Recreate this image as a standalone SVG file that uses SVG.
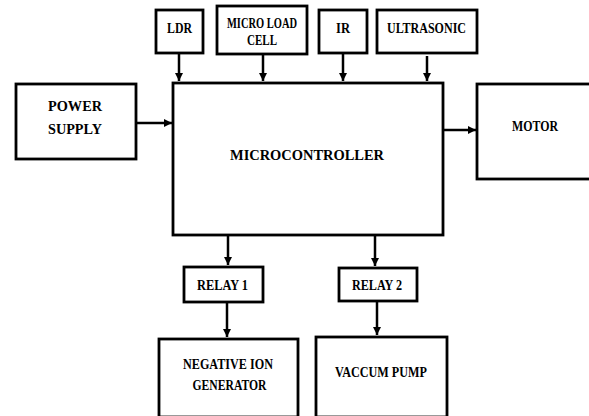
<svg xmlns="http://www.w3.org/2000/svg" width="589" height="416" viewBox="0 0 589 416">
<defs>
<marker id="ah" viewBox="0 0 10 10" refX="10" refY="5" markerWidth="3.2" markerHeight="3.2" orient="auto" markerUnits="strokeWidth">
<path d="M0,0 L10,5 L0,10 z" fill="#000"/>
</marker>
<style>
rect{fill:#fff;stroke:#000;stroke-width:2.8}
text{font-family:"Liberation Serif","Times New Roman",serif;font-weight:bold;font-size:15px;fill:#000;text-anchor:middle}
.c line{stroke:#000;stroke-width:2.5;marker-end:url(#ah)}
</style>
</defs>
<rect x="0" y="0" width="589" height="416" style="fill:#fff;stroke:none"/>
<g id="ldr"><rect x="156" y="10" width="47" height="43"/><text x="179.5" y="33" font-size="14" textLength="25" lengthAdjust="spacingAndGlyphs">LDR</text></g>
<g id="loadcell"><rect x="217" y="6" width="90" height="48"/><text x="262" y="28" textLength="70" lengthAdjust="spacingAndGlyphs">MICRO LOAD</text><text x="262" y="45" textLength="30" lengthAdjust="spacingAndGlyphs">CELL</text></g>
<g id="ir"><rect x="319" y="10" width="48" height="43"/><text x="343" y="33" textLength="14" lengthAdjust="spacingAndGlyphs">IR</text></g>
<g id="ultrasonic"><rect x="377" y="10" width="100" height="43"/><text x="426.5" y="33" textLength="79" lengthAdjust="spacingAndGlyphs">ULTRASONIC</text></g>
<g id="power"><rect x="16" y="84" width="120" height="75"/><text x="75" y="111" font-size="20" textLength="54" lengthAdjust="spacingAndGlyphs">POWER</text><text x="75" y="134" font-size="20" textLength="54" lengthAdjust="spacingAndGlyphs">SUPPLY</text></g>
<g id="mcu"><rect x="173" y="83" width="270" height="152"/><text x="307" y="160" font-size="18" textLength="154" lengthAdjust="spacingAndGlyphs">MICROCONTROLLER</text></g>
<g id="motor"><rect x="477" y="84" width="114" height="95"/><text x="535" y="131" font-size="15.5" textLength="46" lengthAdjust="spacingAndGlyphs">MOTOR</text></g>
<g id="relay1"><rect x="184" y="267" width="79" height="35"/><text x="222.5" y="290" textLength="51" lengthAdjust="spacingAndGlyphs">RELAY 1</text></g>
<g id="relay2"><rect x="339" y="268" width="78" height="33"/><text x="377" y="290" textLength="50" lengthAdjust="spacingAndGlyphs">RELAY 2</text></g>
<g id="ion"><rect x="159" y="339" width="139" height="78"/><text x="228" y="369" font-size="17" textLength="90" lengthAdjust="spacingAndGlyphs">NEGATIVE ION</text><text x="229.5" y="390" font-size="17" textLength="74" lengthAdjust="spacingAndGlyphs">GENERATOR</text></g>
<g id="pump"><rect x="316" y="337" width="131" height="80"/><text x="381" y="377" font-size="16.5" textLength="92" lengthAdjust="spacingAndGlyphs">VACCUM PUMP</text></g>
<g id="connectors" class="c">
<line x1="179" y1="54" x2="179" y2="81"/>
<line x1="263" y1="55" x2="263" y2="81"/>
<line x1="343" y1="54" x2="343" y2="81"/>
<line x1="427" y1="56" x2="427" y2="81"/>
<line x1="137" y1="123" x2="172" y2="123"/>
<line x1="444" y1="130" x2="476" y2="130"/>
<line x1="228" y1="236" x2="228" y2="265"/>
<line x1="227" y1="303" x2="227" y2="337"/>
<line x1="375" y1="236" x2="375" y2="266"/>
<line x1="377" y1="302" x2="377" y2="335"/>
</g>
</svg>
